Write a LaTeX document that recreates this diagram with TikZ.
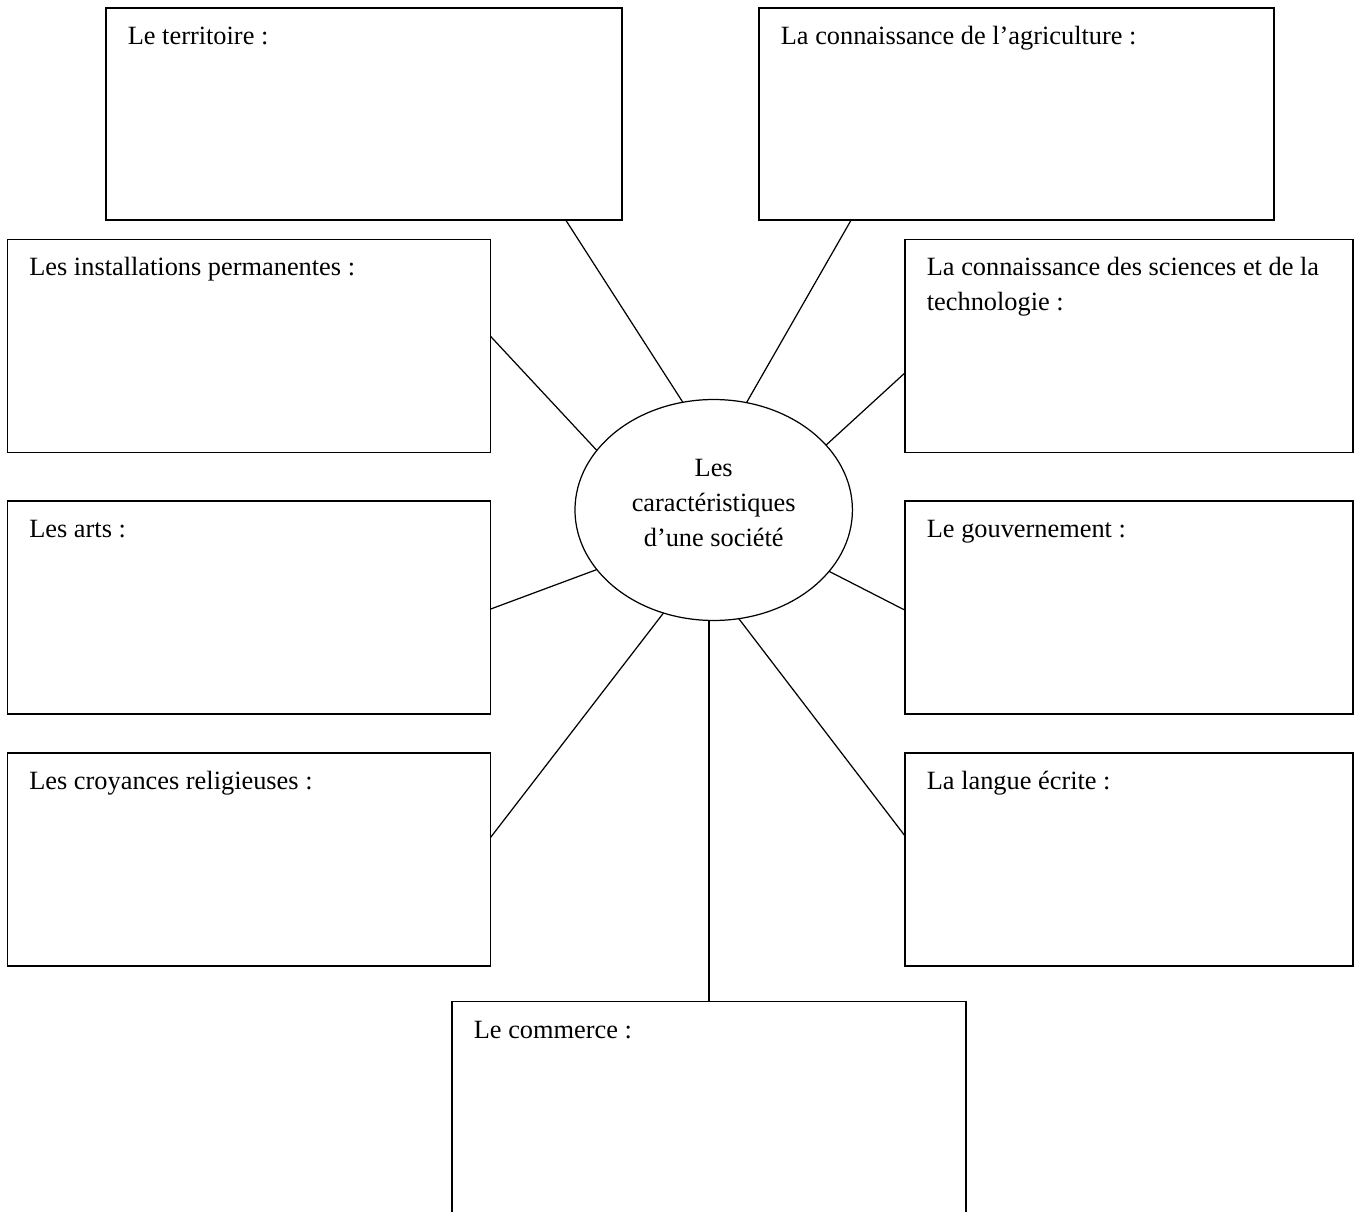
\documentclass[tikz,border=0pt]{standalone}
\usepackage{fontspec}
\setmainfont{Liberation Serif}
\usetikzlibrary{
  shapes.geometric,
  positioning,
  calc}
\tikzset{
  %% answerbox : an empty box to be filled in
  answerbox/.style={
    rectangle,
    draw=black,
    line width=0.85pt,
    anchor=north west,
    minimum height=4.26cm,
    inner sep=0pt,
    outer sep=0pt
  },
  %% boxlabel : the title in the upper left corner of a box
  boxlabel/.style={
    anchor=base west,
    inner sep=0pt,
    align=left,
    font=\fontsize{15pt}{20pt}\selectfont
  },
  %% society : the ellipse in the middle
  society/.style={
    ellipse,
    draw=black,
    line width=0.7pt,
    minimum width=5.55cm,
    minimum height=4.42cm,
    inner sep=0pt,
    outer sep=0pt
  },
  %% societytext : the text inside the ellipse
  societytext/.style={
    inner sep=0pt,
    align=center,
    font=\fontsize{15pt}{20pt}\selectfont
  },
  %% spoke : line from a box to the ellipse
  spoke/.style={line width=0.7pt}
}

\begin{document}
\begin{tikzpicture}
  [x=0.02cm,
  y=-0.02cm]

  \useasboundingbox (0,0) rectangle (1354,1212);

  %% Centre
  \node (soc) [society] at (713.7,510) {};
  \node (soc-t) [societytext] at ($(soc.center)+(0,-7)$) {%
    Les\\caractéristiques\\d’une société
  };

  %% Boxes, top row
  \node (terr) [answerbox, minimum width=10.32cm, minimum height=4.24cm] at (106,8) {};
  \node (agri) [answerbox, minimum width=10.30cm, minimum height=4.24cm] at (759,8) {};

  %% Boxes, left column
  \node (inst) [answerbox, minimum width=9.66cm] at (7.5,239.5) {};
  \node (arts) [answerbox, minimum width=9.66cm, below=0.97cm of inst] {};
  \node (croy) [answerbox, minimum width=9.66cm, below=0.78cm of arts] {};

  %% Boxes, right column
  \node (sci) [answerbox, minimum width=8.96cm] at (905,239.5) {};
  \node (gouv) [answerbox, minimum width=8.96cm, below=0.97cm of sci] {};
  \node (langue) [answerbox, minimum width=8.96cm, below=0.78cm of gouv] {};

  %% Box at the bottom
  \node (comm) [answerbox, minimum width=10.28cm, minimum height=4.29cm] at (452,1001.5) {};

  %% Titles
  \node (terr-t) [boxlabel] at ($(terr.north west)+(21.5,36.5)$) {Le territoire :};
  \node (agri-t) [boxlabel] at ($(agri.north west)+(21.5,36.5)$) {La connaissance de l’agriculture :};
  \node (inst-t) [boxlabel] at ($(inst.north west)+(21.5,36.5)$) {Les installations permanentes :};
  \node (arts-t) [boxlabel] at ($(arts.north west)+(21.5,36.5)$) {Les arts :};
  \node (croy-t) [boxlabel] at ($(croy.north west)+(21.5,36.5)$) {Les croyances religieuses :};
  \node (sci-t) [boxlabel] at ($(sci.north west)+(21.5,71.5)$) {%
    La connaissance des sciences et de la\\technologie :};
  \node (gouv-t) [boxlabel] at ($(gouv.north west)+(21.5,36.5)$) {Le gouvernement :};
  \node (langue-t) [boxlabel] at ($(langue.north west)+(21.5,36.5)$) {La langue écrite :};
  \node (comm-t) [boxlabel] at ($(comm.north west)+(21.5,36.5)$) {Le commerce :};

  %% Spokes
  \draw [spoke] ($(terr.south west)!0.891!(terr.south east)$) -- (soc.106);
  \draw [spoke] ($(agri.south west)!0.179!(agri.south east)$) -- (soc.73);
  \draw [spoke] ($(inst.north east)!0.454!(inst.south east)$) -- (soc.153);
  \draw [spoke] ($(sci.north west)!0.626!(sci.south west)$) -- (soc.30);
  \draw [spoke] ($(arts.north east)!0.508!(arts.south east)$) -- (soc.207.6);
  \draw [spoke] ($(gouv.north west)!0.513!(gouv.south west)$) -- (soc.332.3);
  \draw [spoke] ($(croy.north east)!0.398!(croy.south east)$) -- (soc.244.2);
  \draw [spoke] ($(langue.north west)!0.39!(langue.south west)$) -- (soc.283.4);
  \draw [spoke] (comm.north) -- (comm.north |- soc.south);

\end{tikzpicture}
\end{document}
